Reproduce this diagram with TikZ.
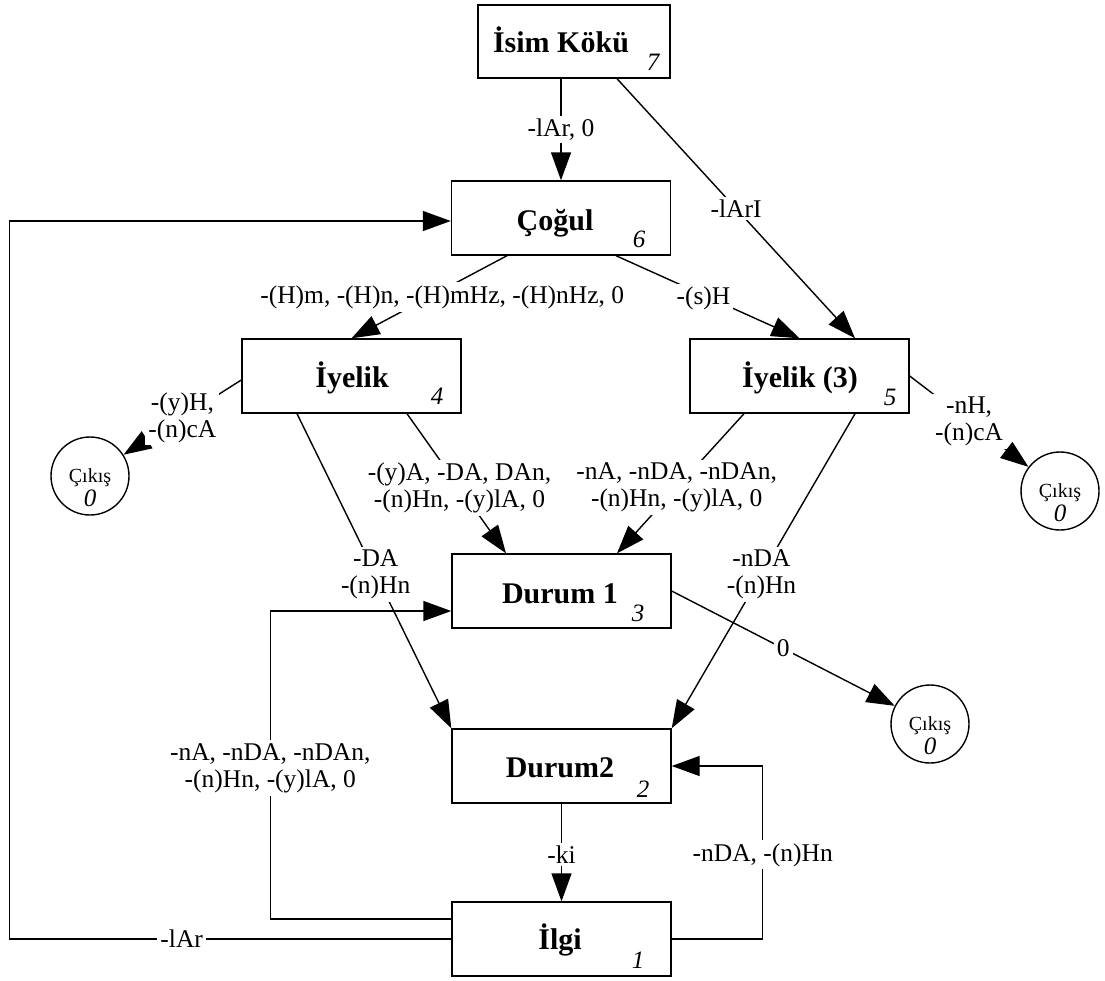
\documentclass[tikz,border=0pt]{standalone}
\usepackage{fontspec}
\setmainfont{Liberation Serif}
\usetikzlibrary{arrows.meta,calc}
\begin{document}
\begin{tikzpicture}[x=1pt,y=-1pt,
  box/.style={draw, line width=1.4pt, minimum width=219pt, minimum height=74pt, inner sep=0pt},
  exitc/.style={draw, circle, line width=1.4pt, minimum size=78pt, inner sep=0pt},
  nm/.style={font=\fontsize{30}{32}\selectfont\bfseries, anchor=base, inner sep=0pt},
  num/.style={font=\fontsize{25}{28}\selectfont\itshape, inner sep=0pt},
  exn/.style={font=\fontsize{20}{22}\selectfont, anchor=base, inner sep=0pt},
  exz/.style={font=\fontsize{25}{28}\selectfont\itshape, anchor=base, inner sep=0pt},
  lab/.style={font=\fontsize{25.5}{27}\selectfont, fill=white, inner sep=3pt, align=center},
  arr/.style={line width=1.4pt, -{Triangle[length=28pt,width=20pt]}}]
\useasboundingbox (0,0) rectangle (1105,980);

% state boxes
\node[box, minimum width=192pt, minimum height=73pt] (isim) at (574,41.5) {};
\node[box] (cogul) at (561,218) {};
\node[box] (iye) at (351.5,376) {};
\node[box] (iye3) at (799.5,376) {};
\node[box] (dur1) at (561.5,591) {};
\node[box] (dur2) at (561.5,766) {};
\node[box] (ilgi) at (561.5,939) {};

% exit states
\node[exitc] (exL) at (90,476) {};
\node[exitc] (exR) at (1060,491) {};
\node[exitc] (exB) at (930,724) {};
\node[exn] (exLt) at ($(exL)+(0,6)$) {Çıkış};
\node[exz] (exLz) at ($(exL)+(0,30)$) {0};
\node[exn] (exRt) at ($(exR)+(0,6)$) {Çıkış};
\node[exz] (exRz) at ($(exR)+(0,30)$) {0};
\node[exn] (exBt) at ($(exB)+(0,6)$) {Çıkış};
\node[exz] (exBz) at ($(exB)+(0,30)$) {0};

% state names and numbers
\node[nm] (isimT) at (561,52) {İsim Kökü};
\node[nm] (cogulT) at (555,230) {Çoğul};
\node[nm] (iyeT) at (352,387) {İyelik};
\node[nm] (iye3T) at (800,387) {İyelik (3)};
\node[nm] (dur1T) at (560,603) {Durum 1};
\node[nm] (dur2T) at (560,777) {Durum2};
\node[nm] (ilgiT) at (560,949) {İlgi};
\node[num] (isimN) at (653,62) {7};
\node[num] (cogulN) at (639,239) {6};
\node[num] (iyeN) at (437,396) {4};
\node[num] (iye3N) at (890,397) {5};
\node[num] (dur1N) at (638,613) {3};
\node[num] (dur2N) at (643,789) {2};
\node[num] (ilgiN) at (638,960) {1};

% transitions
\draw[arr] (isim.south -| cogul.north) -- node[lab,pos=0.5] (l1) {-lAr, 0} (cogul.north);
\draw[arr] ([xshift=43pt]isim.south) -- node[lab,pos=0.5] (l2) {-lArI} ([xshift=55.5pt]iye3.north);
\draw[arr] ([xshift=-54pt]cogul.south) -- node[lab,pos=0.5,xshift=13pt] (l3) {-(H)m, -(H)n, -(H)mHz, -(H)nHz, 0} (iye.north);
\draw[arr] ([xshift=55pt]cogul.south) -- node[lab,pos=0.52,xshift=-8pt] (l4) {-(s)H} (iye3.north);
\draw[arr] ([yshift=-4pt]iye.west) -- node[lab,pos=0.5] (l5) {-(y)H,\\-(n)cA} (exL);
\draw[arr] ([xshift=55.5pt]iye.south) -- node[lab,pos=0.53] (l6) {-(y)A, -DA, DAn,\\-(n)Hn, -(y)lA, 0} ([xshift=-55.5pt]dur1.north);
\draw[arr] ([xshift=-54.5pt]iye.south) -- node[lab,pos=0.51] (l7) {-DA\\-(n)Hn} (dur2.north west);
\draw[arr] ([xshift=-55.5pt]iye3.south) -- node[lab,pos=0.53] (l8) {-nA, -nDA, -nDAn,\\-(n)Hn, -(y)lA, 0} ([xshift=55.5pt]dur1.north);
\draw[arr] ([xshift=55.5pt]iye3.south) -- node[lab,pos=0.51] (l9) {-nDA\\-(n)Hn} (dur2.north east);
\draw[arr] (iye3.east) -- node[lab,pos=0.5] (l10) {-nH,\\-(n)cA} (exR);
\draw[arr] (dur1.east) -- node[lab,pos=0.5] (l11) {0} (exB);
\draw[arr] (dur2.south) -- node[lab,pos=0.52] (l12) {-ki} (ilgi.north);
\draw[arr] ([yshift=20pt]ilgi.west) -- ++(-181,0) |- node[lab,pos=0.245] (l13) {-nA, -nDA, -nDAn,\\-(n)Hn, -(y)lA, 0} ([yshift=-20pt]dur1.west);
\draw[arr] (ilgi.west) -- node[lab,pos=0.61] (l14) {-lAr} ++(-442,0) |- ([yshift=-3pt]cogul.west);
\draw[arr] (ilgi.east) -- ++(91,0) |- node[lab,pos=0.243] (l15) {-nDA, -(n)Hn} (dur2.east);
\end{tikzpicture}
\end{document}
